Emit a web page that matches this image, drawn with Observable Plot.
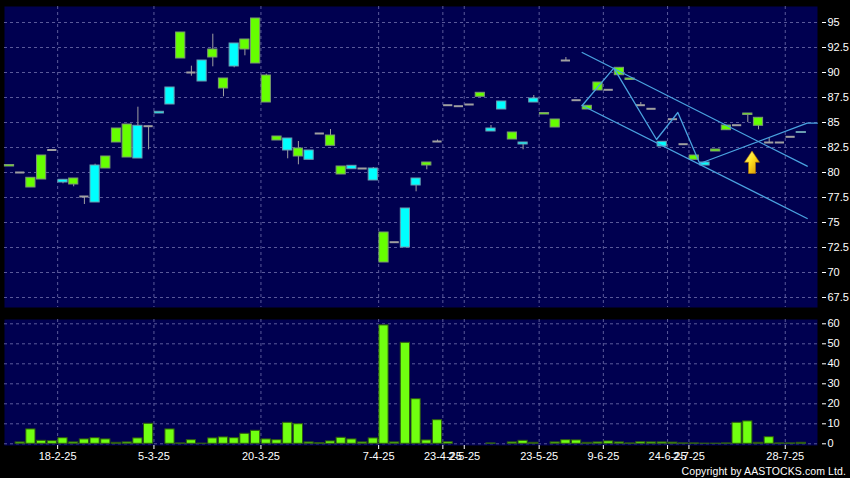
<!DOCTYPE html>
<html><head><meta charset="utf-8">
<script src="https://cdn.jsdelivr.net/npm/d3@7"></script>
<script src="https://cdn.jsdelivr.net/npm/@observablehq/plot@0.6"></script>
<style>
html,body{margin:0;padding:0;background:#000;}
#wrap{position:relative;width:850px;height:478px;background:#000;overflow:hidden;font-family:"Liberation Sans",Arial,sans-serif;}
#price{position:absolute;left:0;top:0;}
#volume{position:absolute;left:0;top:312px;}
#price svg,#volume svg{display:block;}
#copy{position:absolute;right:4px;top:465px;color:#fff;font-size:10.5px;letter-spacing:0.1px;white-space:nowrap;}
</style></head><body>
<div id="wrap"><div id="price"></div><div id="volume"></div><div id="copy">Copyright by AASTOCKS.com Ltd.</div></div>
<script>
// ---- data (one entry per trading session, left to right) ----
const opens = [80.6,80.0,78.5,79.3,82.25,79.27,78.8,77.6,80.7,80.4,
  83.0,81.5,84.67,84.63,86.07,88.5,91.4,90.0,91.2,91.5,
  88.4,92.9,92.3,90.9,87.0,83.2,83.4,81.6,82.2,83.9,
  82.67,79.8,80.67,80.4,80.4,71.0,73.03,76.4,79.4,80.7,
  83.1,86.73,86.63,86.8,87.57,84.4,87.1,83.3,83.0,87.4,
  85.8,84.5,91.2,87.23,86.3,88.2,88.27,89.73,89.25,86.73,
  86.37,83.07,85.33,82.83,81.27,81.0,82.1,84.23,84.73,85.75,
  84.67,83.0,83.0,83.57,84.05];
const highs = [80.75,80.0,79.47,81.7,82.25,79.27,79.4,77.6,80.83,81.6,
  84.4,84.8,86.53,84.63,86.07,88.5,94.0,90.63,91.2,93.83,
  89.4,92.9,93.3,95.4,89.83,83.6,83.4,83.1,82.2,83.9,
  84.3,80.6,80.67,80.4,80.5,74.0,73.03,76.4,79.4,81.0,
  83.25,86.73,86.63,86.8,87.97,84.7,87.1,84.0,83.0,87.7,
  85.95,85.3,91.5,87.23,86.67,89.0,88.27,90.47,89.4,87.0,
  86.37,83.07,85.33,82.83,81.7,81.0,82.3,84.7,84.73,85.9,
  85.47,83.43,83.0,83.57,84.05];
const lows = [80.6,80.0,78.5,79.3,82.25,78.87,78.57,76.8,77.0,80.4,
  83.0,81.5,81.4,82.27,85.9,86.8,91.4,89.63,89.1,90.57,
  87.57,90.47,91.67,90.9,87.0,83.2,81.37,80.77,81.27,83.9,
  82.67,79.8,80.33,80.4,79.2,71.0,73.03,72.5,78.07,80.27,
  83.1,86.73,86.63,86.8,87.57,84.1,86.3,83.3,82.27,87.0,
  85.8,84.5,91.2,87.23,86.3,88.2,88.27,89.73,89.25,86.73,
  86.37,82.6,85.33,82.83,81.27,80.7,82.1,84.23,84.73,85.0,
  84.27,83.0,83.0,83.57,83.95];
const closes = [80.75,80.0,79.47,81.7,82.25,79.0,79.4,77.6,77.0,81.6,
  84.4,84.8,81.4,84.63,85.9,86.8,94.0,90.0,89.1,92.3,
  89.4,90.6,93.3,95.4,89.7,83.6,82.2,82.4,81.27,83.9,
  83.7,80.6,80.33,80.4,79.2,74.0,73.03,72.5,78.7,81.0,
  83.1,86.73,86.63,86.8,87.97,84.1,86.3,84.0,82.8,87.0,
  85.95,85.3,91.2,87.23,86.67,89.0,88.27,90.47,89.4,86.73,
  86.37,82.6,85.33,82.83,81.7,80.7,82.3,84.7,84.73,85.9,
  85.47,83.0,83.0,83.57,83.95];
const volumes = [0,0.7,7.2,1.5,1.3,2.8,0.7,2.2,2.8,2.2,
  0.5,0.7,2.7,10.0,0,7.2,0.2,1.8,0.1,2.7,
  3.2,2.8,5.0,6.5,2.2,1.8,10.5,9.8,0.7,0.3,
  1.2,3.0,2.2,0.7,2.7,59.2,0.7,50.5,22.3,1.7,
  11.8,0.8,0,0,0,0.2,0,0.7,1.5,0.5,
  0,0.7,1.8,1.7,0.5,0.7,1.2,0.7,0.2,0.8,
  0.7,0.7,0.6,0.2,0.2,0.1,0.1,0.2,10.5,11.2,
  0.5,3.3,0.2,0.2,0.5];
const priceTicks = [67.5,70,72.5,75,77.5,80,82.5,85,87.5,90,92.5,95];
const volumeTicks = [0,10,20,30,40,50,60];
const dateTickPos = [4.5,13.5,23.5,34.5,40.5,42.5,49.5,55.5,61.5,63.5,72.5];
const dateTickLabels = ["18-2-25","5-3-25","20-3-25","7-4-25","23-4-25","2-5-25","23-5-25","9-6-25","24-6-25","2-7-25","28-7-25"];
// trend-line annotations (session index, price)
const zigzagIdx = [53.52,56.48,60.47,62.46,64.51,74.55,75.49];
const zigzagPrice = [86.7,90.43,83.3,86.0,80.9,84.93,84.93];
const upperIdx = [53.52,74.55];
const upperPrice = [92.0,80.63];
const lowerIdx = [53.52,74.55];
const lowerPrice = [86.7,75.4];
const arrowIdx = 69.44, arrowTip = 82.1, arrowBase = 79.85;

// ---- styles ----
const GREEN = "#66ff00", CYAN = "#00ffff", NAVY = "#000050", GRID = "#5a5a9a",
      GRAY = "#a0a0a0", TREND = "#4aa3e0", VOL = "#70ff10";
const HW = 0.43;
const xDomain = [-0.467, 75.514];

const candles = opens.map((o, i) => ({i, o, h: highs[i], l: lows[i], c: closes[i], v: volumes[i]}));
const up = candles.filter(d => d.c > d.o);
const down = candles.filter(d => d.c < d.o);
const doji = candles.filter(d => d.c === d.o);
const pts = (xs, ys) => xs.map((x, k) => ({x, y: ys[k]}));
const labelMap = new Map(dateTickPos.map((p, k) => [p, dateTickLabels[k]]));

const common = {
  width: 850, marginLeft: 4, marginRight: 33,
  style: {background: "transparent", color: "#fff", fontFamily: "'Liberation Sans', Arial, sans-serif", fontSize: "11px", overflow: "visible"}
};
const grid = {stroke: GRID, strokeDasharray: "3,3", strokeWidth: 1};

const priceChart = Plot.plot({
  ...common, height: 307, marginTop: 6, marginBottom: 0,
  x: {domain: xDomain, axis: null},
  y: {domain: [66.5, 96.6], axis: null},
  marks: [
    Plot.frame({fill: NAVY, stroke: null}),
    Plot.ruleY(priceTicks, grid),
    Plot.ruleX(dateTickPos, grid),
    Plot.ruleX(candles.filter(d => d.h > d.l), {x: "i", y1: "l", y2: "h", stroke: GRAY}),
    Plot.rect(up, {x1: d => d.i - HW, x2: d => d.i + HW, y1: "o", y2: "c", fill: GREEN, stroke: "#7a9a70"}),
    Plot.rect(down, {x1: d => d.i - HW, x2: d => d.i + HW, y1: "o", y2: "c", fill: CYAN, stroke: "#6a9cb0"}),
    Plot.ruleY(doji, {y: "o", x1: d => d.i - HW, x2: d => d.i + HW, stroke: GRAY, strokeWidth: 2}),
    Plot.line(pts(upperIdx, upperPrice), {x: "x", y: "y", stroke: TREND, strokeWidth: 1.3}),
    Plot.line(pts(lowerIdx, lowerPrice), {x: "x", y: "y", stroke: TREND, strokeWidth: 1.3}),
    Plot.line(pts(zigzagIdx, zigzagPrice), {x: "x", y: "y", stroke: TREND, strokeWidth: 1.3}),
    Plot.axisY(priceTicks, {anchor: "right", label: null, tickSize: 4, dx: 4, tickPadding: 2, tickFormat: d => String(d), color: "#fff", fontSize: 11})
  ]
});

const volChart = Plot.plot({
  ...common, height: 166, marginTop: 7, marginBottom: 33,
  x: {domain: xDomain, axis: null},
  y: {domain: [-0.85, 62.15], axis: null},
  marks: [
    Plot.frame({fill: NAVY, stroke: null}),
    Plot.ruleY(volumeTicks, grid),
    Plot.ruleX(dateTickPos, grid),
    Plot.rect(candles.filter(d => d.v > 0), {x1: d => d.i - HW, x2: d => d.i + HW, y1: 0, y2: "v", fill: VOL, stroke: "#2e5a10"}),
    Plot.axisY(volumeTicks, {anchor: "right", label: null, tickSize: 4, dx: 4, tickPadding: 2, tickFormat: d => String(d), color: "#fff", fontSize: 11}),
    Plot.axisX(dateTickPos, {anchor: "bottom", label: null, tickSize: 4, tickPadding: 3, tickFormat: d => labelMap.get(d), color: "#fff", fontSize: 11})
  ]
});

document.getElementById("price").append(priceChart);
document.getElementById("volume").append(volChart);

// yellow arrow annotation placed through the chart's scales
const sx = priceChart.scale("x"), sy = priceChart.scale("y");
const ax = sx.apply(arrowIdx), ty = sy.apply(arrowTip), by = sy.apply(arrowBase);
const hh = (by - ty) * 0.5;
const svg = d3.select(priceChart);
const defs = svg.append("defs");
const g = defs.append("linearGradient").attr("id", "arrowGrad").attr("x1", 0).attr("y1", 0).attr("x2", 1).attr("y2", 1);
g.append("stop").attr("offset", "0%").attr("stop-color", "#ffff90");
g.append("stop").attr("offset", "45%").attr("stop-color", "#ffe020");
g.append("stop").attr("offset", "100%").attr("stop-color", "#d08a00");
svg.append("path")
  .attr("d", `M${ax},${ty} L${ax + 7.5},${ty + hh} L${ax + 3.5},${ty + hh} L${ax + 3.5},${by} L${ax - 3.5},${by} L${ax - 3.5},${ty + hh} L${ax - 7.5},${ty + hh} Z`)
  .attr("fill", "url(#arrowGrad)")
  .attr("stroke", "#b07000").attr("stroke-width", 0.6);
</script>
</body></html>
